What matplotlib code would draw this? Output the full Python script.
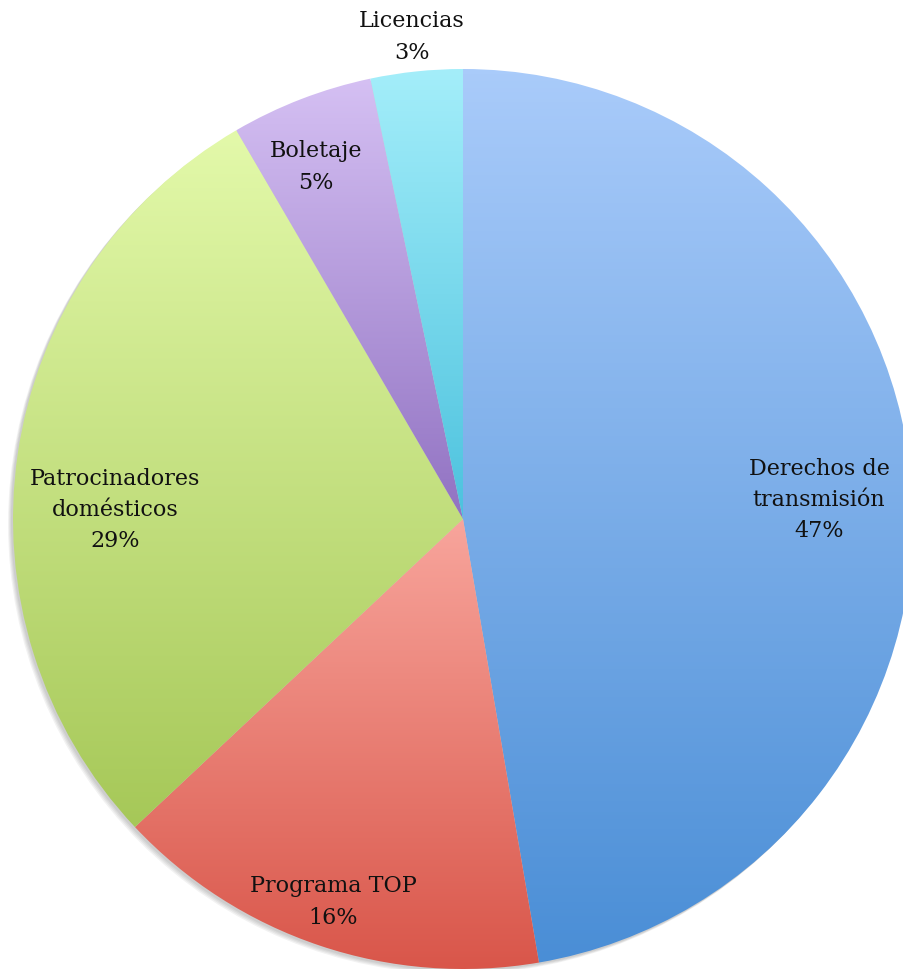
import numpy as np
import matplotlib
matplotlib.use("Agg")
import matplotlib.pyplot as plt
from matplotlib.colors import LinearSegmentedColormap
from matplotlib.patches import Circle

categories = ["Derechos de\ntransmisión", "Programa TOP", "Patrocinadores\ndomésticos", "Boletaje", "Licencias"]
values = [47.3, 15.7, 28.6, 5.1, 3.3]
pct_labels = ["47%", "16%", "29%", "5%", "3%"]
top_colors = ["#a9cbfa", "#f8a59c", "#e3f9aa", "#d5c0f3", "#a4eefa"]
bottom_colors = ["#4a8ed6", "#d9564a", "#a6c858", "#9172c2", "#4cc2de"]
# label centres (image pixels, from top-left)
label_xy = [(819, 500), (333, 902), (115, 510), (316, 167), (412, 37)]

W, H = 904, 970
fig = plt.figure(figsize=(W / 100, H / 100), dpi=100)
ax = fig.add_axes([0, 0, 1, 1])

cx, cy, r = 463, 450, 450

# soft shadow
for i, a in enumerate([0.05, 0.05, 0.05, 0.05]):
    ax.add_patch(Circle((cx - 2 - i, cy - 2 - i), r, color="black", alpha=a, lw=0, zorder=0))

wedges, _ = ax.pie(values, center=(cx, cy), radius=r, startangle=90,
                   counterclock=False, frame=True,
                   wedgeprops=dict(linewidth=0, edgecolor="none"))
ax.set_xlim(0, W)
ax.set_ylim(0, H)
ax.set_aspect("equal")
ax.axis("off")

for w, c1, c2, lab, pct, (lx, ly) in zip(wedges, top_colors, bottom_colors, categories, pct_labels, label_xy):
    w.set_facecolor("none")
    bb = w.get_path().get_extents(w.get_transform() - ax.transData)
    cmap = LinearSegmentedColormap.from_list("g", [c2, c1])
    grad = np.linspace(0, 1, 256).reshape(-1, 1)
    im = ax.imshow(grad, cmap=cmap, extent=[bb.x0, bb.x1, bb.y0, bb.y1],
                   origin="lower", aspect="auto", zorder=1, interpolation="bilinear")
    im.set_clip_path(w)
    ax.text(lx, H - ly, lab + "\n" + pct, ha="center", va="center", fontsize=16,
            family="DejaVu Serif", color="#111111", zorder=5, linespacing=1.55)

ax.set_xlim(0, W)
ax.set_ylim(0, H)
ax.set_aspect("equal")
fig.savefig("out.png", dpi=100)
